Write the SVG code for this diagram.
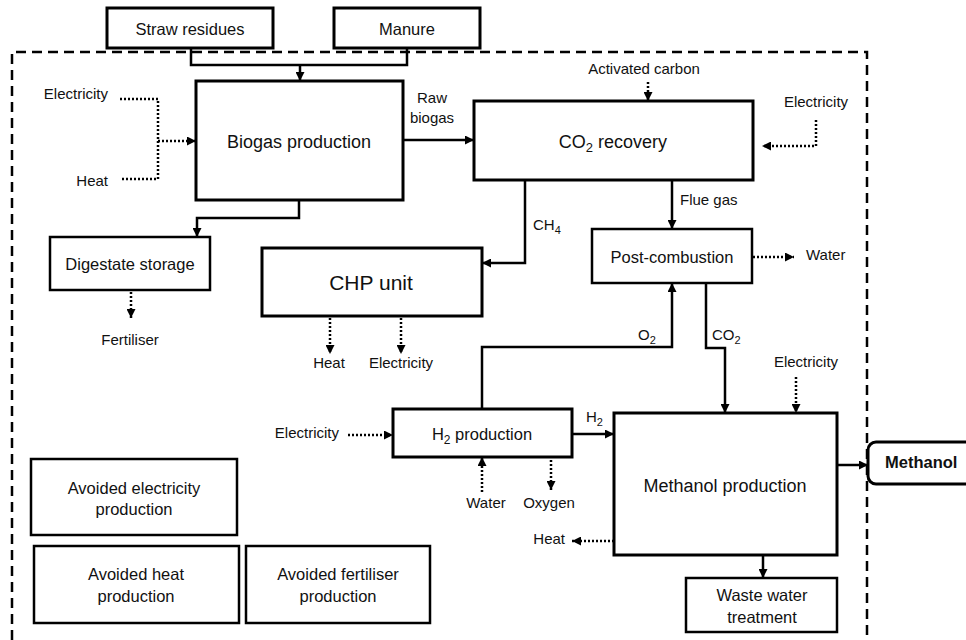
<svg xmlns="http://www.w3.org/2000/svg" width="966" height="640" viewBox="0 0 966 640">
<style>
text{font-family:"Liberation Sans",Arial,sans-serif;fill:#111;text-anchor:middle}
.s{font-size:15px}
.m{font-size:16.5px}
.l{font-size:18px}
.b{fill:#fff;stroke:#000;stroke-width:3}
.t{fill:#fff;stroke:#000;stroke-width:2.5}
.c{fill:none;stroke:#000;stroke-width:2.5}
.d{fill:none;stroke:#000;stroke-width:2.5;stroke-dasharray:2 2}
.sub{font-size:11px}
</style>
<defs>
<marker id="a" viewBox="0 0 10 10" refX="10" refY="5" markerWidth="9" markerHeight="9" orient="auto" markerUnits="userSpaceOnUse"><path d="M0,0L10,5L0,10z" fill="#000"/></marker>
</defs>
<rect width="966" height="640" fill="#fff"/>
<path d="M12,640V52H867V640" fill="none" stroke="#000" stroke-width="2.5" stroke-dasharray="10 6"/>
<g id="connectors">
<path class="c" d="M191,48V65H407V48"/>
<path class="c" d="M300,65V81" marker-end="url(#a)"/>
<path class="c" d="M299,200V218H197V237" marker-end="url(#a)"/>
<path class="d" d="M120,99H158V179H120"/>
<path class="d" d="M158,141H196" marker-end="url(#a)"/>
<path class="c" d="M403,140H474" marker-end="url(#a)"/>
<path class="d" d="M648,82V101" marker-end="url(#a)"/>
<path class="d" d="M816,120V146H762" marker-end="url(#a)"/>
<path class="c" d="M672,180V229" marker-end="url(#a)"/>
<path class="c" d="M525,180V263H482" marker-end="url(#a)"/>
<path class="d" d="M753,257H794" marker-end="url(#a)"/>
<path class="c" d="M482,409V347H672V283" marker-end="url(#a)"/>
<path class="c" d="M706,283V348H725V413" marker-end="url(#a)"/>
<path class="d" d="M796,377V413" marker-end="url(#a)"/>
<path class="d" d="M348,435H393" marker-end="url(#a)"/>
<path class="c" d="M572,434H614" marker-end="url(#a)"/>
<path class="d" d="M482,492V457" marker-end="url(#a)"/>
<path class="d" d="M551,460V490" marker-end="url(#a)"/>
<path class="d" d="M614,541H572" marker-end="url(#a)"/>
<path class="c" d="M838,465H868" marker-end="url(#a)"/>
<path class="c" d="M763,555V578" marker-end="url(#a)"/>
<path class="d" d="M131,292V318" marker-end="url(#a)"/>
<path class="d" d="M330,318V354" marker-end="url(#a)"/>
<path class="d" d="M401,318V354" marker-end="url(#a)"/>
</g>
<g id="labels">
<text class="s" x="108" y="99" style="text-anchor:end">Electricity</text>
<text class="s" x="108" y="186" style="text-anchor:end">Heat</text>
<text class="s" x="432" y="103">Raw</text>
<text class="s" x="432" y="123">biogas</text>
<text class="s" x="644" y="74">Activated carbon</text>
<text class="s" x="816" y="107">Electricity</text>
<text class="s" x="680" y="205" style="text-anchor:start">Flue gas</text>
<text class="s" x="533" y="230" style="text-anchor:start">CH<tspan class="sub" dy="4">4</tspan></text>
<text class="s" x="806" y="260" style="text-anchor:start">Water</text>
<text class="s" x="130" y="345">Fertiliser</text>
<text class="s" x="329" y="368">Heat</text>
<text class="s" x="401" y="368">Electricity</text>
<text class="s" x="638" y="340" style="text-anchor:start">O<tspan class="sub" dy="4">2</tspan></text>
<text class="s" x="712" y="340" style="text-anchor:start">CO<tspan class="sub" dy="4">2</tspan></text>
<text class="s" x="806" y="367">Electricity</text>
<text class="s" x="339" y="438" style="text-anchor:end">Electricity</text>
<text class="s" x="586" y="422" style="text-anchor:start">H<tspan class="sub" dy="4">2</tspan></text>
<text class="s" x="486" y="508">Water</text>
<text class="s" x="549" y="508">Oxygen</text>
<text class="s" x="565" y="544" style="text-anchor:end">Heat</text>
</g>
<g id="straw"><rect class="b" x="107" y="8" width="166" height="40"/><text class="m" x="190" y="35">Straw residues</text></g>
<g id="manure"><rect class="b" x="334" y="8" width="146" height="40"/><text class="m" x="407" y="35">Manure</text></g>
<g id="biogas"><rect class="b" x="196" y="81" width="207" height="119"/><text class="l" x="299" y="148">Biogas production</text></g>
<g id="co2rec"><rect class="b" x="474" y="101" width="279" height="79"/><text class="l" x="613" y="148">CO<tspan style="font-size:13px" dy="4">2</tspan><tspan dy="-4"> recovery</tspan></text></g>
<g id="postcomb"><rect class="t" x="592" y="229" width="160" height="54"/><text class="m" x="672" y="263">Post-combustion</text></g>
<g id="digestate"><rect class="t" x="50" y="237" width="160" height="53"/><text class="m" x="130" y="270">Digestate storage</text></g>
<g id="chp"><rect class="b" x="262" y="248" width="220" height="68"/><text x="371" y="290" style="font-size:21px">CHP unit</text></g>
<g id="h2prod"><rect class="b" x="393" y="409" width="179" height="48"/><text class="m" x="482" y="440">H<tspan style="font-size:12px" dy="4">2</tspan><tspan dy="-4"> production</tspan></text></g>
<g id="meoh"><rect class="b" x="614" y="413" width="223" height="142"/><text class="l" x="725" y="492">Methanol production</text></g>
<g id="waste"><rect class="t" x="686" y="578" width="151" height="54"/><text class="m" x="762" y="601">Waste water</text><text class="m" x="762" y="623">treatment</text></g>
<g id="methanol"><rect class="b" x="868" y="442" width="110" height="42" rx="8"/><text x="885" y="468" style="font-size:16.5px;font-weight:bold;text-anchor:start">Methanol</text></g>
<g id="avelec"><rect class="t" x="31" y="459" width="206" height="76"/><text class="m" x="134" y="494">Avoided electricity</text><text class="m" x="134" y="515">production</text></g>
<g id="avheat"><rect class="t" x="34" y="546" width="205" height="77"/><text class="m" x="136" y="580">Avoided heat</text><text class="m" x="136" y="602">production</text></g>
<g id="avfert"><rect class="t" x="246" y="546" width="184" height="77"/><text class="m" x="338" y="580">Avoided fertiliser</text><text class="m" x="338" y="602">production</text></g>
</svg>
